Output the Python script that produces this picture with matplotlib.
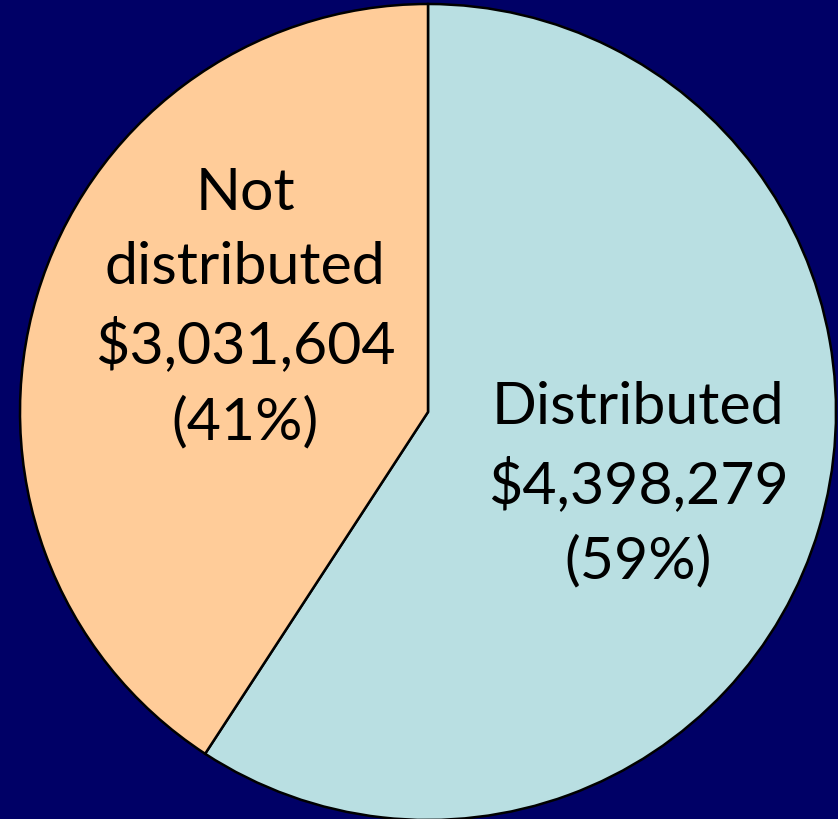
import matplotlib
matplotlib.use("Agg")
import matplotlib.pyplot as plt

labels = ["Distributed", "Not\ndistributed"]
values = [4398279, 3031604]
colors = ["#B9DFE2", "#FFCC99"]
total = sum(values)

fig = plt.figure(figsize=(8.38, 8.20), dpi=100, facecolor="#000066")
ax = fig.add_axes([0, 0, 1, 1])
ax.set_facecolor("#000066")

ax.pie(values, colors=colors, startangle=90, counterclock=False,
       center=(428, 407), radius=408,
       wedgeprops=dict(edgecolor="black", linewidth=1.8))
ax.set_xlim(0, 838)
ax.set_ylim(0, 820)
ax.set_aspect("equal")
ax.axis("off")

positions = [(638, 335), (245, 512)]
for lab, v, (x, y) in zip(labels, values, positions):
    txt = f"{lab}\n${v:,}\n({round(100*v/total)}%)"
    ax.text(x, y, txt, ha="center", va="center", fontsize=42.5,
            family="Lato", color="black", linespacing=1.5)

fig.savefig("out.png", dpi=100, facecolor=fig.get_facecolor())
